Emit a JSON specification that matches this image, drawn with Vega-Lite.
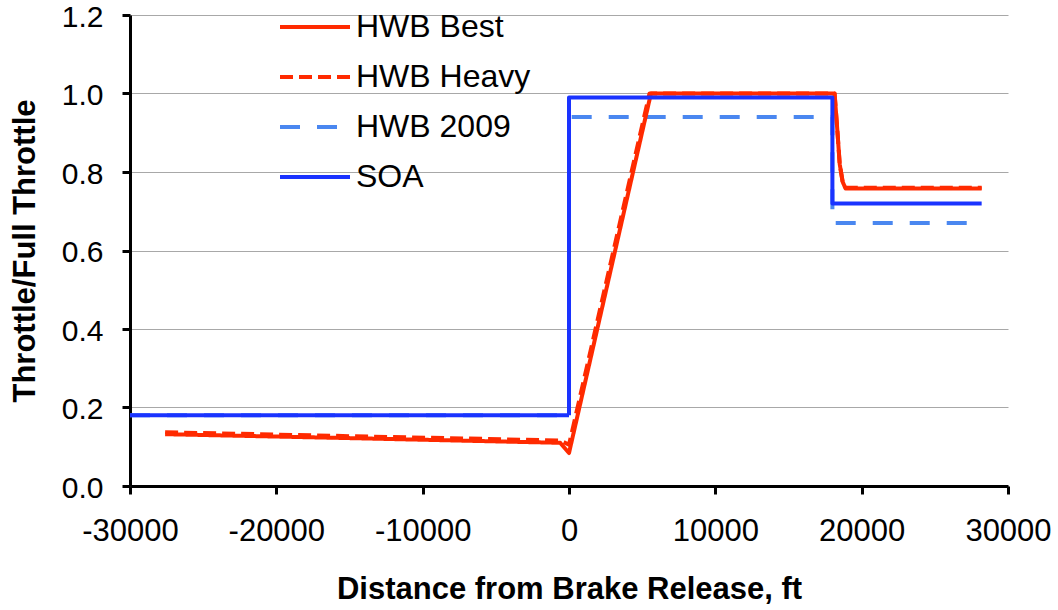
{
  "$schema": "https://vega.github.io/schema/vega-lite/v6.json",
  "width": 878,
  "height": 471,
  "autosize": "none",
  "padding": {"left": 130, "top": 15, "right": 50, "bottom": 124},
  "background": "white",
  "config": {
    "view": {"stroke": null},
    "font": "Liberation Sans",
    "legend": {
      "orient": "none",
      "legendX": 148,
      "legendY": -13,
      "padding": 0,
      "symbolType": "stroke",
      "symbolSize": 4900,
      "symbolStrokeWidth": 4,
      "labelFontSize": 32,
      "labelFont": "Liberation Sans",
      "labelColor": "black",
      "labelOffset": 4,
      "labelLimit": 400,
      "rowPadding": 0,
      "clipHeight": 50
    }
  },
  "data": {
    "values": [
      {"s": "HWB 2009", "i": 1, "x": -30000, "y": 0.18},
      {"s": "HWB 2009", "i": 2, "x": 0, "y": 0.18},
      {"s": "HWB 2009", "i": 3, "x": 0, "y": 0.94},
      {"s": "HWB 2009", "i": 4, "x": 18000, "y": 0.94},
      {"s": "HWB 2009", "i": 5, "x": 18000, "y": 0.67},
      {"s": "HWB 2009", "i": 6, "x": 28000, "y": 0.67},

      {"s": "HWB Heavy", "i": 1, "x": -27600, "y": 0.137},
      {"s": "HWB Heavy", "i": 2, "x": -15000, "y": 0.127},
      {"s": "HWB Heavy", "i": 3, "x": -600, "y": 0.116},
      {"s": "HWB Heavy", "i": 4, "x": 0, "y": 0.105},
      {"s": "HWB Heavy", "i": 5, "x": 5500, "y": 1.0},
      {"s": "HWB Heavy", "i": 6, "x": 18150, "y": 1.0},
      {"s": "HWB Heavy", "i": 7, "x": 18350, "y": 0.9},
      {"s": "HWB Heavy", "i": 8, "x": 18500, "y": 0.82},
      {"s": "HWB Heavy", "i": 9, "x": 18700, "y": 0.775},
      {"s": "HWB Heavy", "i": 10, "x": 18900, "y": 0.76},
      {"s": "HWB Heavy", "i": 11, "x": 28200, "y": 0.76},

      {"s": "HWB Best", "i": 1, "x": -27600, "y": 0.132},
      {"s": "HWB Best", "i": 2, "x": -15000, "y": 0.122},
      {"s": "HWB Best", "i": 3, "x": -600, "y": 0.11},
      {"s": "HWB Best", "i": 4, "x": 0, "y": 0.084},
      {"s": "HWB Best", "i": 5, "x": 5600, "y": 1.0},
      {"s": "HWB Best", "i": 6, "x": 18150, "y": 1.0},
      {"s": "HWB Best", "i": 7, "x": 18350, "y": 0.9},
      {"s": "HWB Best", "i": 8, "x": 18500, "y": 0.82},
      {"s": "HWB Best", "i": 9, "x": 18700, "y": 0.775},
      {"s": "HWB Best", "i": 10, "x": 18900, "y": 0.758},
      {"s": "HWB Best", "i": 11, "x": 28200, "y": 0.758},

      {"s": "SOA", "i": 1, "x": -30000, "y": 0.18},
      {"s": "SOA", "i": 2, "x": 0, "y": 0.18},
      {"s": "SOA", "i": 3, "x": 0, "y": 0.99},
      {"s": "SOA", "i": 4, "x": 18000, "y": 0.99},
      {"s": "SOA", "i": 5, "x": 18000, "y": 0.72},
      {"s": "SOA", "i": 6, "x": 28200, "y": 0.72}
    ]
  },
  "mark": {"type": "line", "strokeWidth": 4, "strokeCap": "butt", "strokeJoin": "round"},
  "encoding": {
    "x": {
      "field": "x",
      "type": "quantitative",
      "title": "Distance from Brake Release, ft",
      "scale": {"domain": [-30000, 30000], "nice": false, "zero": false},
      "axis": {
        "values": [-30000, -20000, -10000, 0, 10000, 20000, 30000],
        "format": "d",
        "labelExpr": "replace(datum.label, '\u2212', '-')",
        "grid": false,
        "domainColor": "black",
        "domainWidth": 3,
        "tickColor": "black",
        "tickWidth": 3,
        "tickSize": 8,
        "labelFontSize": 31,
        "labelColor": "black",
        "labelPadding": 22,
        "labelFlush": false,
        "labelOverlap": false,
        "titleFontSize": 31,
        "titleFontWeight": "bold",
        "titleColor": "black",
        "titlePadding": 28
      }
    },
    "y": {
      "field": "y",
      "type": "quantitative",
      "title": "Throttle/Full Throttle",
      "scale": {"domain": [0, 1.2], "nice": false},
      "axis": {
        "values": [0, 0.2, 0.4, 0.6, 0.8, 1.0, 1.2],
        "format": ".1f",
        "grid": true,
        "gridColor": "#a8a8a8",
        "gridWidth": 1,
        "domainColor": "black",
        "domainWidth": 3,
        "tickColor": "black",
        "tickWidth": 3,
        "tickSize": 8,
        "labelFontSize": 30,
        "labelColor": "black",
        "labelPadding": 19,
        "labelOffset": 2,
        "labelFlush": false,
        "labelOverlap": false,
        "titleFontSize": 31,
        "titleFontWeight": "bold",
        "titleColor": "black",
        "titlePadding": 20
      }
    },
    "color": {
      "field": "s",
      "type": "nominal",
      "scale": {
        "domain": ["HWB Best", "HWB Heavy", "HWB 2009", "SOA"],
        "range": ["#ff2a00", "#ff2a00", "#4a87f0", "#1a33ff"]
      },
      "legend": {"title": null}
    },
    "strokeDash": {
      "field": "s",
      "type": "nominal",
      "scale": {
        "domain": ["HWB Best", "HWB Heavy", "HWB 2009", "SOA"],
        "range": [[1, 0], [13, 6], [20, 17], [1, 0]]
      },
      "legend": {"title": null}
    },
    "order": {"field": "i", "type": "quantitative"}
  }
}
